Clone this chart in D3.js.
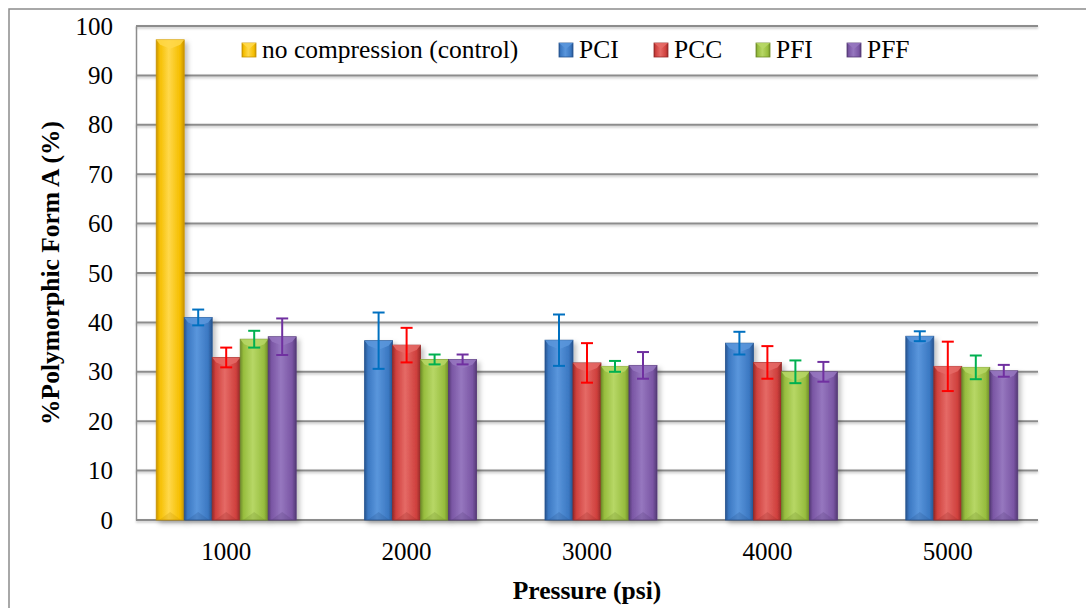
<!DOCTYPE html>
<html>
<head>
<meta charset="utf-8">
<script src="https://cdn.jsdelivr.net/npm/d3@7"></script>
<style>
  html, body { margin: 0; padding: 0; background: #fff; }
  svg, svg text { font-family: 'Liberation Serif', 'Times New Roman', Times, serif !important; }
</style>
</head>
<body>
<svg id="chart" width="1086" height="608"></svg>
<script>
// Pressure groups (x axis)
const pressures = ["1000", "2000", "3000", "4000", "5000"];
// Series names
const seriesNames = ["no compression (control)", "PCI", "PCC", "PFI", "PFF"];
// Mean % polymorphic form A per pressure
const control = [97.2, null, null, null, null];
const pci = [41.0, 36.3, 36.4, 35.8, 37.2];
const pcc = [32.9, 35.4, 31.8, 31.9, 31.1];
const pfi = [36.6, 32.5, 31.1, 30.0, 30.9];
const pff = [37.1, 32.5, 31.3, 30.0, 30.2];
// Error (± standard deviation)
const controlErr = [null, null, null, null, null];
const pciErr = [1.6, 5.7, 5.2, 2.3, 1.0];
const pccErr = [2.0, 3.5, 4.0, 3.3, 5.0];
const pfiErr = [1.7, 1.0, 1.1, 2.3, 2.4];
const pffErr = [3.7, 1.0, 2.7, 2.0, 1.2];
// Y axis ticks
const yTicks = [0, 10, 20, 30, 40, 50, 60, 70, 80, 90, 100];

const seriesValues = [control, pci, pcc, pfi, pff];
const seriesErrors = [controlErr, pciErr, pccErr, pfiErr, pffErr];
const barColors = [
  { base: "#f5be00", light: "#ffd84a", dark: "#c99400" },
  { base: "#3b78c2", light: "#5a96dc", dark: "#27548f" },
  { base: "#cf403d", light: "#e56a66", dark: "#962a28" },
  { base: "#97bd3e", light: "#b7d766", dark: "#6f8c2a" },
  { base: "#7a56a4", light: "#9677bf", dark: "#553a76" }
];
const errColors = [null, "#0070c0", "#ff0000", "#00b050", "#7030a0"];
const serif = "'Liberation Serif', 'Times New Roman', Times, serif";

const svg = d3.select("#chart");
const plotLeft = 136, plotRight = 1038, plotTop = 26, plotBottom = 520;

const defs = svg.append("defs");
barColors.forEach((c, i) => {
  const g = defs.append("linearGradient").attr("id", "grad" + i)
    .attr("x1", "0%").attr("x2", "100%").attr("y1", "0%").attr("y2", "0%");
  g.append("stop").attr("offset", "0%").attr("stop-color", c.dark);
  g.append("stop").attr("offset", "12%").attr("stop-color", c.base);
  g.append("stop").attr("offset", "45%").attr("stop-color", c.light);
  g.append("stop").attr("offset", "85%").attr("stop-color", c.base);
  g.append("stop").attr("offset", "100%").attr("stop-color", c.dark);
});
const shadow = defs.append("filter").attr("id", "shadow")
  .attr("x", "-20%").attr("y", "-5%").attr("width", "160%").attr("height", "120%");
shadow.append("feDropShadow").attr("dx", 3).attr("dy", 3).attr("stdDeviation", 2.5)
  .attr("flood-color", "#000").attr("flood-opacity", 0.25);
const lineShadow = defs.append("filter").attr("id", "lineShadow")
  .attr("x", "-5%").attr("y", "-5%").attr("width", "110%").attr("height", "110%");
lineShadow.append("feDropShadow").attr("dx", 0).attr("dy", 1.5).attr("stdDeviation", 1)
  .attr("flood-color", "#000").attr("flood-opacity", 0.25);

// Outer chart frame
svg.append("rect").attr("x", 9).attr("y", 9).attr("width", 1100).attr("height", 640)
  .attr("fill", "none").attr("stroke", "#8c8c8c").attr("stroke-width", 1.5);

const x0 = d3.scaleBand().domain(pressures).range([plotLeft, plotRight])
  .paddingInner(0.224).paddingOuter(0.112);
const x1 = d3.scaleBand().domain(seriesNames).range([0, x0.bandwidth()]);
const y = d3.scaleLinear().domain([0, 100]).range([plotBottom, plotTop]);

// Gridlines
const grid = svg.append("g").attr("filter", "url(#lineShadow)");
grid.selectAll("line").data(yTicks).join("line")
  .attr("x1", plotLeft).attr("x2", plotRight)
  .attr("y1", d => y(d)).attr("y2", d => y(d))
  .attr("stroke", "#8c8c8c").attr("stroke-width", 2);

// Y axis
const yAxis = svg.append("g").attr("transform", `translate(${plotLeft},0)`)
  .call(d3.axisLeft(y).tickValues(yTicks).tickSize(0).tickPadding(23));
yAxis.attr("font-family", serif);
yAxis.select(".domain").attr("stroke", "#8c8c8c").attr("stroke-width", 1.5);
yAxis.selectAll("text").attr("font-size", 25).attr("fill", "#000");

// X axis labels
const xAxis = svg.append("g").attr("transform", `translate(0,${plotBottom})`)
  .call(d3.axisBottom(x0).tickSize(0).tickPadding(22));
xAxis.attr("font-family", serif);
xAxis.select(".domain").remove();
xAxis.selectAll("text").attr("font-size", 25).attr("fill", "#000");

// Bars
const rows = [];
pressures.forEach((p, pi) => {
  seriesNames.forEach((s, si) => {
    const v = seriesValues[si][pi];
    if (v != null) rows.push({ p, s, si, v, e: seriesErrors[si][pi] });
  });
});

const bw = x1.bandwidth();
const barG = svg.append("g");
const bars = barG.selectAll("g.bar").data(rows).join("g").attr("class", "bar")
  .attr("transform", d => `translate(${x0(d.p) + x1(d.s)},0)`);
bars.append("rect")
  .attr("x", 0).attr("width", bw)
  .attr("y", d => y(d.v)).attr("height", d => y(0) - y(d.v))
  .attr("fill", d => `url(#grad${d.si})`)
  .attr("stroke", d => barColors[d.si].dark).attr("stroke-width", 0.8)
  .attr("filter", "url(#shadow)");
// top bevel
bars.append("path")
  .attr("d", d => {
    const t = y(d.v);
    return `M0,${t} L${bw},${t} L${bw - 4},${t + 5} L${bw / 2},${t + 9} L4,${t + 5} Z`;
  })
  .attr("fill", d => barColors[d.si].light).attr("opacity", 0.85);
// bottom bevel
bars.append("path")
  .attr("d", d => {
    const b = y(0);
    return `M3,${b} L${bw / 2},${b - 8} L${bw - 3},${b} Z`;
  })
  .attr("fill", d => barColors[d.si].dark).attr("opacity", 0.25);

// Error bars
const errG = svg.append("g");
const errRows = rows.filter(d => d.e != null);
const eb = errG.selectAll("g").data(errRows).join("g")
  .attr("transform", d => `translate(${x0(d.p) + x1(d.s) + bw / 2},0)`)
  .attr("stroke", d => errColors[d.si]).attr("stroke-width", 2);
eb.append("line").attr("x1", 0).attr("x2", 0)
  .attr("y1", d => y(d.v + d.e)).attr("y2", d => y(d.v - d.e));
eb.append("line").attr("x1", -6).attr("x2", 6)
  .attr("y1", d => y(d.v + d.e)).attr("y2", d => y(d.v + d.e));
eb.append("line").attr("x1", -6).attr("x2", 6)
  .attr("y1", d => y(d.v - d.e)).attr("y2", d => y(d.v - d.e));

// Legend
const legendX = [242, 559, 654, 756, 847];
const legend = svg.append("g").attr("font-family", serif);
seriesNames.forEach((s, i) => {
  const g = legend.append("g").attr("transform", `translate(${legendX[i]},43)`);
  g.append("rect").attr("width", 14).attr("height", 14)
    .attr("fill", `url(#grad${i})`).attr("stroke", barColors[i].dark).attr("stroke-width", 0.8);
  g.append("path").attr("d", "M0,0 L14,0 L7,6 Z").attr("fill", barColors[i].light).attr("opacity", 0.9);
  g.append("text").attr("x", 20).attr("y", 15).attr("font-size", 25.5).attr("fill", "#000").text(s);
});

// Axis titles
svg.append("text")
  .attr("transform", `translate(59,${(plotTop + plotBottom) / 2}) rotate(-90)`)
  .attr("text-anchor", "middle").attr("font-size", 25.5).attr("font-weight", "bold")
  .attr("font-family", serif)
  .text("%Polymorphic Form A (%)");
svg.append("text")
  .attr("x", (plotLeft + plotRight) / 2).attr("y", 599)
  .attr("text-anchor", "middle").attr("font-size", 25.5).attr("font-weight", "bold")
  .attr("font-family", serif)
  .text("Pressure (psi)");
</script>
</body>
</html>
